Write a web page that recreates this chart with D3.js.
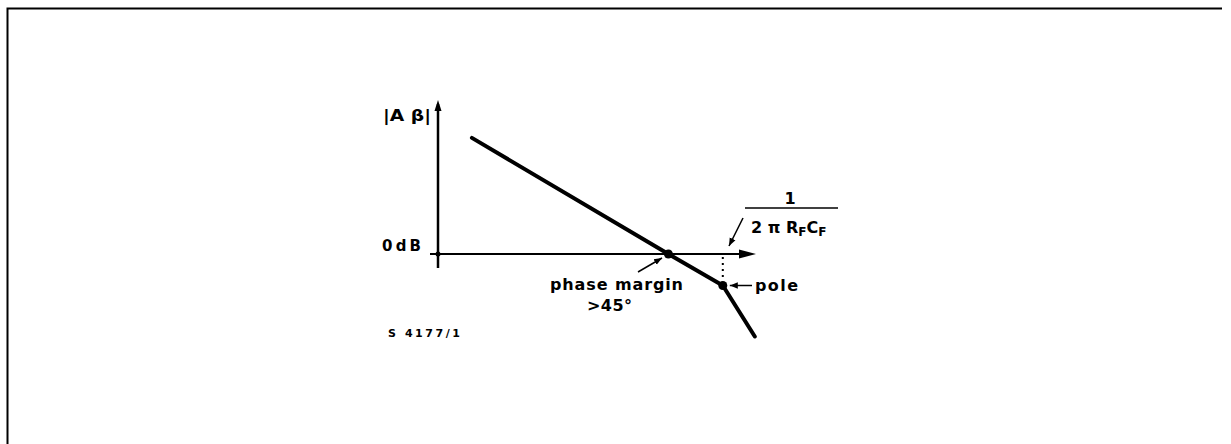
<!DOCTYPE html>
<html><head><meta charset="utf-8">
<script src="https://cdn.jsdelivr.net/npm/d3@7"></script>
<style>html,body{margin:0;padding:0;background:#fff;}svg{display:block;}</style>
</head><body>
<svg id="c" width="1231" height="444"></svg>
<script>
// Schematic data (arbitrary log-frequency units, magnitude units)
const freq = [1.06, 7.2, 8.9, 9.9];
const magnitude = [3.87, 0, -1.05, -2.75];
const crossingIndex = 1;   // phase margin point
const poleIndex = 2;       // pole point
const yLabels = ["|A β|", "0dB"];
const annotations = ["phase margin", ">45°", "pole", "1", "2 π R", "S 4177/1"];

const svg = d3.select("#c");
const x = d3.scaleLinear().domain([0, 10]).range([438, 758]);
const y = d3.scaleLinear().domain([0, 1]).range([254, 224]);
const font = "'DejaVu Sans', sans-serif";

// border (top and left only)
svg.append("path").attr("d", "M7.5,444 L7.5,8.5 L1222,8.5")
  .attr("fill", "none").attr("stroke", "#000").attr("stroke-width", 2);

const defs = svg.append("defs");
defs.append("marker").attr("id", "ah").attr("viewBox", "0 0 10 10").attr("refX", 10).attr("refY", 5)
  .attr("markerWidth", 8).attr("markerHeight", 8).attr("markerUnits", "userSpaceOnUse").attr("orient", "auto")
  .append("path").attr("d", "M0,1 L10,5 L0,9 Z").attr("fill", "#000");

// y axis
svg.append("line").attr("x1", x(0)).attr("x2", x(0)).attr("y1", 268).attr("y2", 104)
  .attr("stroke", "#000").attr("stroke-width", 2.5);
svg.append("path").attr("d", `M${x(0)},100 L${x(0)-3.5},111 L${x(0)+3.5},111 Z`).attr("fill", "#000");
// x axis
svg.append("line").attr("x1", 430).attr("x2", 742).attr("y1", y(0)).attr("y2", y(0))
  .attr("stroke", "#000").attr("stroke-width", 2);
svg.append("path").attr("d", `M756,${y(0)} L739,${y(0)-4.5} L739,${y(0)+4.5} Z`).attr("fill", "#000");
svg.append("circle").attr("cx", x(0)).attr("cy", y(0)).attr("r", 2.5).attr("fill", "#000");

// axis labels
svg.append("text").attr("x", 383).attr("y", 121).attr("font-family", font).attr("font-weight", "bold")
  .attr("font-size", 15).attr("textLength", 48).attr("lengthAdjust", "spacingAndGlyphs").text(yLabels[0]);
svg.append("text").attr("x", 382).attr("y", 251).attr("font-family", font).attr("font-weight", "bold")
  .attr("font-size", 15).attr("textLength", 39).attr("lengthAdjust", "spacing").text(yLabels[1]);

// magnitude curve
const pts = freq.map((f, i) => [x(f), y(magnitude[i])]);
svg.append("path").attr("d", d3.line()(pts)).attr("fill", "none").attr("stroke", "#000")
  .attr("stroke-width", 4).attr("stroke-linejoin", "round").attr("stroke-linecap", "round");
[crossingIndex, poleIndex].forEach(i => {
  svg.append("circle").attr("cx", pts[i][0]).attr("cy", pts[i][1]).attr("r", 4.5).attr("fill", "#000");
});

// dotted vertical from pole to axis
svg.append("line").attr("x1", pts[poleIndex][0]).attr("x2", pts[poleIndex][0])
  .attr("y1", y(0) + 3).attr("y2", pts[poleIndex][1] - 6)
  .attr("stroke", "#000").attr("stroke-width", 2).attr("stroke-dasharray", "2,4");

// phase margin annotation
svg.append("line").attr("x1", 638).attr("y1", 272).attr("x2", 662).attr("y2", 258)
  .attr("stroke", "#000").attr("stroke-width", 1.5).attr("marker-end", "url(#ah)");
svg.append("text").attr("x", 550).attr("y", 290).attr("font-family", font).attr("font-weight", "bold")
  .attr("font-size", 16).attr("textLength", 133).attr("lengthAdjust", "spacing").text(annotations[0]);
svg.append("text").attr("x", 587).attr("y", 311).attr("font-family", font).attr("font-weight", "bold")
  .attr("font-size", 16).attr("textLength", 45).attr("lengthAdjust", "spacing").text(annotations[1]);

// pole annotation
svg.append("line").attr("x1", 752).attr("y1", pts[poleIndex][1]).attr("x2", pts[poleIndex][0] + 7).attr("y2", pts[poleIndex][1])
  .attr("stroke", "#000").attr("stroke-width", 1.5).attr("marker-end", "url(#ah)");
svg.append("text").attr("x", 755).attr("y", 291).attr("font-family", font).attr("font-weight", "bold")
  .attr("font-size", 16).attr("textLength", 43).attr("lengthAdjust", "spacing").text(annotations[2]);

// 1 / (2πRfCf)
svg.append("text").attr("x", 790).attr("y", 204).attr("text-anchor", "middle").attr("font-family", font)
  .attr("font-weight", "bold").attr("font-size", 16).text(annotations[3]);
svg.append("line").attr("x1", 745).attr("x2", 838).attr("y1", 208).attr("y2", 208).attr("stroke", "#000").attr("stroke-width", 1.5);
const den = svg.append("text").attr("x", 751).attr("y", 233).attr("font-family", font).attr("font-weight", "bold").attr("font-size", 16);
den.append("tspan").text("2 π R");
den.append("tspan").attr("dy", 3).attr("font-size", 12).text("F");
den.append("tspan").attr("dy", -3).text("C");
den.append("tspan").attr("dy", 3).attr("font-size", 12).text("F");
svg.append("line").attr("x1", 743).attr("y1", 218).attr("x2", 729).attr("y2", 246)
  .attr("stroke", "#000").attr("stroke-width", 1.5).attr("marker-end", "url(#ah)");

// figure code
svg.append("text").attr("x", 388).attr("y", 337).attr("font-family", font).attr("font-size", 11)
  .attr("font-weight", "bold").attr("textLength", 72).attr("lengthAdjust", "spacing").text(annotations[5]);
</script>
</body></html>
